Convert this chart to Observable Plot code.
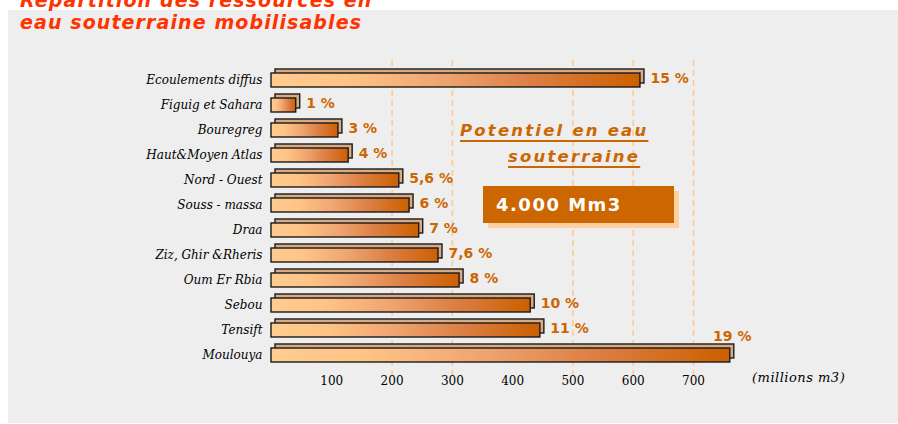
<!DOCTYPE html>
<html><head><meta charset="utf-8">
<script src="https://cdn.jsdelivr.net/npm/d3@7"></script>
<script src="https://cdn.jsdelivr.net/npm/@observablehq/plot@0.6"></script>
<style>
html,body{margin:0;padding:0;background:#fff;}
body{width:898px;height:424px;overflow:hidden;position:relative;font-family:"DejaVu Sans",sans-serif;}
#panel{position:absolute;left:8px;top:10px;width:890px;height:413px;background:#eeeeee;}
#title{position:absolute;left:20px;top:-11px;color:#ff3300;font:italic bold 19px "DejaVu Sans",sans-serif;letter-spacing:1.1px;line-height:22px;white-space:nowrap;}
#chart{position:absolute;left:0;top:0;}
.pot{position:absolute;color:#cc6600;font:italic bold 16.5px "DejaVu Sans",sans-serif;text-decoration:underline;text-underline-offset:4px;text-decoration-thickness:2px;white-space:nowrap;letter-spacing:2.2px;line-height:20px;}
#box{position:absolute;left:483px;top:186px;width:191px;height:37px;background:#cc6600;box-shadow:5px 5px 0 #ffd0a0;color:#fff;font:bold 18px "DejaVu Sans",sans-serif;letter-spacing:1.5px;line-height:37px;box-sizing:border-box;padding-left:13px;white-space:nowrap;}
#unit{position:absolute;left:752px;top:370px;font:italic 13px "DejaVu Serif",serif;letter-spacing:0.5px;color:#000;white-space:nowrap;}
</style></head><body>
<div id="panel"></div>
<div id="title">Répartition des ressources en<br>eau souterraine mobilisables</div>
<div id="chart"></div>
<div class="pot" style="left:460px;top:121px;">Potentiel en eau</div>
<div class="pot" style="left:508px;top:147px;">souterraine</div>
<div id="box">4.000 Mm3</div>
<div id="unit">(millions m3)</div>
<script>
const regions = ["Ecoulements diffus","Figuig et Sahara","Bouregreg","Haut&Moyen Atlas","Nord - Ouest","Souss - massa","Draa","Ziz, Ghir &Rheris","Oum Er Rbia","Sebou","Tensift","Moulouya"];
const volumes = [612, 41, 111, 128, 212, 229, 245, 277, 312, 430, 446, 761];
const shares = ["15 %","1 %","3 %","4 %","5,6 %","6 %","7 %","7,6 %","8 %","10 %","11 %","19 %"];
const xTicks = [100, 200, 300, 400, 500, 600, 700];
const gridValues = [200, 300, 500, 600, 700];

const data = regions.map((r, i) => ({region: r, volume: volumes[i], share: shares[i]}));
const sideData = data.filter(d => d.region !== "Moulouya");
const aboveData = data.filter(d => d.region === "Moulouya");

const svg = Plot.plot({
  width: 898, height: 424,
  marginLeft: 271, marginRight: 205, marginTop: 60, marginBottom: 49,
  style: {background: "transparent", overflow: "visible"},
  x: {domain: [0, 700], label: null},
  y: {domain: regions, padding: 0.434, label: null},
  marks: [
    Plot.ruleX(gridValues, {stroke: "#ffc890", strokeWidth: 1.5, strokeDasharray: "6,4"}),
    Plot.barX(data, {x: "volume", y: "region", dx: 4, dy: -4, fill: "#d8ab84", stroke: "#1a1a1a", strokeWidth: 1.4}),
    Plot.barX(data, {x: "volume", y: "region", fill: "url(#barGrad)", stroke: "#1a1a1a", strokeWidth: 1.4}),
    Plot.text(sideData, {x: "volume", y: "region", text: "share", dx: 10, dy: -2, textAnchor: "start", fill: "#cc6600", fontWeight: "bold", fontSize: 14, fontFamily: "DejaVu Sans"}),
    Plot.text(aboveData, {x: "volume", y: "region", text: "share", dx: 2, dy: -19, textAnchor: "middle", fill: "#cc6600", fontWeight: "bold", fontSize: 14, fontFamily: "DejaVu Sans"}),
    Plot.axisY({tickSize: 0, tickPadding: 9, fontStyle: "italic", fontSize: 12, fontFamily: "DejaVu Serif", fill: "#000", label: null}),
    Plot.axisX({ticks: xTicks, tickSize: 0, tickPadding: 1, fontSize: 12, fontFamily: "DejaVu Serif", fill: "#000", label: null})
  ]
});

const defs = d3.select(svg).insert("defs", ":first-child");
const grad = defs.append("linearGradient").attr("id", "barGrad").attr("x1", 0).attr("x2", 1).attr("y1", 0).attr("y2", 0);
[[0, "#ffcc90"], [0.2, "#ffc486"], [0.45, "#f0a672"], [0.7, "#dc8046"], [1, "#cc5f00"]].forEach(([o, c]) => grad.append("stop").attr("offset", o).attr("stop-color", c));
document.getElementById("chart").appendChild(svg);
</script>
</body></html>
